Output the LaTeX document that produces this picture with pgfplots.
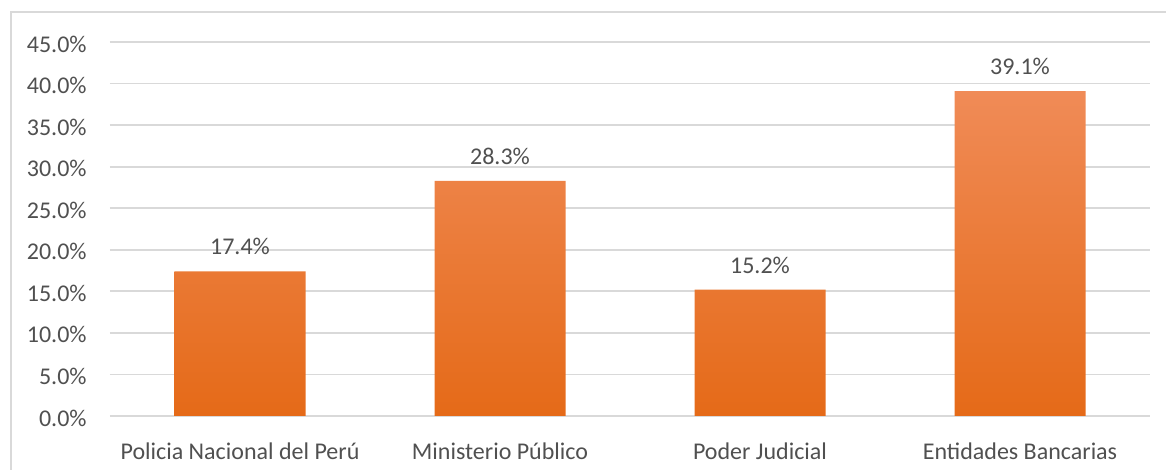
\documentclass[border=0pt]{standalone}
\usepackage{pgfplots}
\pgfplotsset{compat=1.18}
\usepackage{fontspec}
\setmainfont{Carlito}
\definecolor{gridc}{HTML}{D9D9D9}
\definecolor{txt}{HTML}{505050}
\definecolor{btop}{HTML}{F08B57}
\definecolor{bmid}{HTML}{F47F2E}
\definecolor{bbot}{HTML}{E56A18}
\begin{document}
\fontsize{12pt}{14pt}\selectfont
\begin{tikzpicture}
\useasboundingbox (-55pt,-27pt) rectangle (528pt,208pt);
\begin{axis}[
  at={(0pt,0pt)}, anchor=south west,
  scale only axis, width=520pt, height=187pt,
  xmin=-0.5, xmax=3.5, ymin=0, ymax=45,
  ytick={0,5,...,45},
  xtick=data,
  xticklabels={Policia Nacional del Perú, Ministerio Público, Poder Judicial, Entidades Bancarias},
  /pgf/number format/assume math mode=true,
  yticklabel={\pgfmathprintnumber[fixed,fixed zerofill,precision=1]{\tick}\%},
  ymajorgrids, grid style={gridc, line width=0.85pt},
  axis line style={draw=none}, tick style={draw=none},
  ticklabel style={font=\fontsize{12pt}{14pt}\selectfont, text=txt},
  xticklabel style={text height=8pt, text depth=2pt, yshift=-5.5pt},
  yticklabel style={xshift=-7.5pt, yshift=-1pt},
  ybar, bar width=65.5pt,
  nodes near coords={\pgfmathprintnumber[fixed,fixed zerofill,precision=1]{\pgfplotspointmeta}\%},
  every node near coord/.append style={font=\fontsize{12pt}{14pt}\selectfont, text=txt, yshift=4pt},
  clip=false,
]
\addplot[draw=none, top color=btop, middle color=bmid, bottom color=bbot] coordinates {(0,17.4) (1,28.3) (2,15.2) (3,39.1)};
\end{axis}
\draw[gridc, line width=1pt] (-49.5pt,-40pt) -- (-49.5pt,202pt) -- (540pt,202pt);
\end{tikzpicture}
\end{document}
